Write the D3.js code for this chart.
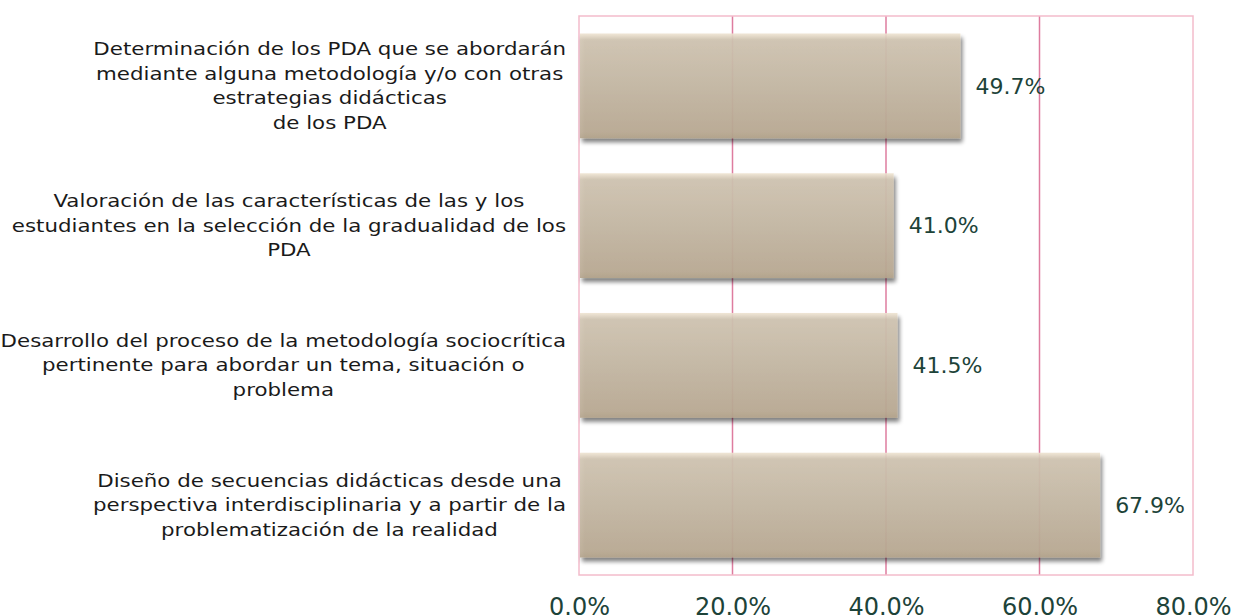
<!DOCTYPE html>
<html>
<head>
<meta charset="utf-8">
<script src="https://cdn.jsdelivr.net/npm/d3@7"></script>
<style>
  html, body { margin: 0; padding: 0; background: #ffffff; }
  svg { display: block; }
</style>
</head>
<body>
<svg id="chart" width="1235" height="616"></svg>
<script>
// ---- data ----
const categories = [
  ["Determinación de los PDA que se abordarán", "mediante alguna metodología y/o con otras", "estrategias didácticas", "de los PDA"],
  ["Valoración de las características de las y los", "estudiantes en la selección de la gradualidad de los", "PDA"],
  ["Desarrollo del proceso de la metodología sociocrítica", "pertinente para abordar un tema, situación o", "problema"],
  ["Diseño de secuencias didácticas desde una", "perspectiva interdisciplinaria y a partir de la", "problematización de la realidad"]
];
const values = [49.7, 41.0, 41.5, 67.9];
const tickValues = [0, 20, 40, 60, 80];
const tickLabels = ["0.0%", "20.0%", "40.0%", "60.0%", "80.0%"];

// ---- layout ----
const svg = d3.select("#chart");
const m = { left: 579, right: 1193, top: 16, bottom: 575 };
const FONT = "'DejaVu Sans', sans-serif";

const x = d3.scaleLinear().domain([0, 80]).range([m.left, m.right]);
const y = d3.scaleBand().domain(d3.range(categories.length)).range([m.top, m.bottom]).paddingInner(0.25).paddingOuter(0.125);

const defs = svg.append("defs");
const grad = defs.append("linearGradient").attr("id", "barGrad").attr("x1", 0).attr("y1", 0).attr("x2", 0).attr("y2", 1);
[["0%", "#efe4d2"], ["6%", "#d2c6b3"], ["50%", "#c6b9a5"], ["94%", "#bbab94"], ["100%", "#b3a38b"]]
  .forEach(([o, c]) => grad.append("stop").attr("offset", o).attr("stop-color", c));

const f = defs.append("filter").attr("id", "shadow").attr("x", "-5%").attr("y", "-20%").attr("width", "115%").attr("height", "150%");
f.append("feGaussianBlur").attr("in", "SourceAlpha").attr("stdDeviation", 2.2).attr("result", "b");
f.append("feOffset").attr("in", "b").attr("dx", 2).attr("dy", 3.5).attr("result", "o");
f.append("feComponentTransfer").attr("in", "o").attr("result", "s")
  .append("feFuncA").attr("type", "linear").attr("slope", 0.55);
const mg = f.append("feMerge");
mg.append("feMergeNode").attr("in", "s");
mg.append("feMergeNode").attr("in", "SourceGraphic");

// gridlines
svg.append("g").selectAll("line").data(tickValues.slice(1, -1)).join("line")
  .attr("x1", d => x(d)).attr("x2", d => x(d))
  .attr("y1", m.top).attr("y2", m.bottom)
  .attr("stroke", "#de7c9f").attr("stroke-width", 1.5);

// plot border
svg.append("rect")
  .attr("x", m.left).attr("y", m.top)
  .attr("width", m.right - m.left).attr("height", m.bottom - m.top)
  .attr("fill", "none").attr("stroke", "#f3bccb").attr("stroke-width", 1.5);

// bars
svg.append("g").selectAll("rect").data(values).join("rect")
  .attr("x", x(0) + 1)
  .attr("y", (d, i) => y(i))
  .attr("width", d => x(d) - x(0) - 1)
  .attr("height", y.bandwidth())
  .attr("fill", "url(#barGrad)")
  .attr("fill-opacity", 0.9)
  .attr("filter", "url(#shadow)");

// value labels
svg.append("g").selectAll("text").data(values).join("text")
  .attr("x", d => x(d) + 15)
  .attr("y", (d, i) => y(i) + y.bandwidth() / 2)
  .attr("dy", "0.35em")
  .attr("font-family", FONT).attr("font-size", 22)
  .attr("fill", "#1d4339")
  .text(d => d.toFixed(1) + "%");

// category labels (horizontally widened to mimic the original wide typeface)
const lineH = 24.7;
const rightEdge = 566;
const sx = 1.22;
categories.forEach((lines, i) => {
  const g = svg.append("g").attr("transform", `translate(${rightEdge},0) scale(${sx},1)`);
  const cy = y(i) + y.bandwidth() / 2;
  const t = g.selectAll("text").data(lines).join("text")
    .attr("font-family", FONT).attr("font-size", 17.5)
    .attr("fill", "#1a1a1a")
    .attr("text-anchor", "middle")
    .attr("y", (d, k) => cy + (k - (lines.length - 1) / 2) * lineH)
    .attr("dy", "0.35em")
    .text(d => d);
  let maxW = 0;
  t.each(function () { maxW = Math.max(maxW, this.getComputedTextLength()); });
  t.attr("x", -maxW / 2);
});

// x axis
const ax = d3.axisBottom(x).tickValues(tickValues).tickFormat((d, i) => tickLabels[i]).tickSize(0).tickPadding(0);
const axg = svg.append("g").attr("transform", `translate(0, ${m.bottom})`).call(ax);
axg.select(".domain").remove();
axg.selectAll("text")
  .attr("y", 40).attr("dy", null)
  .attr("font-family", FONT).attr("font-size", 24)
  .attr("fill", "#1d4339");
</script>
</body>
</html>
